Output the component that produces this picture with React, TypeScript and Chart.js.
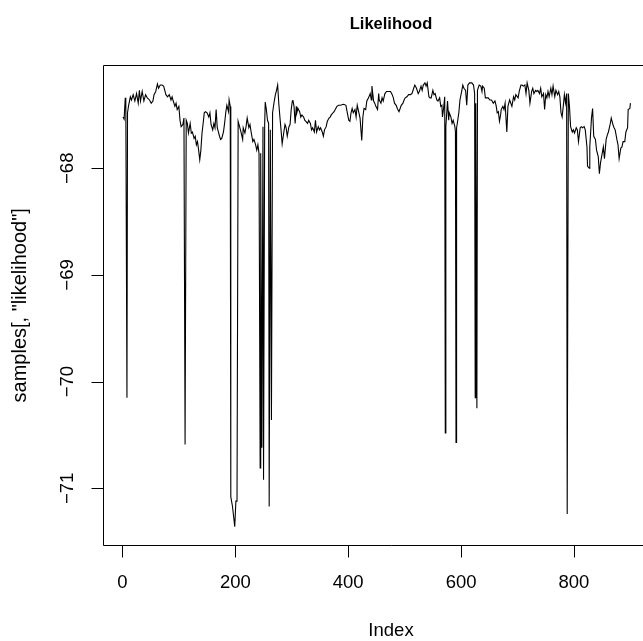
import React, { useEffect, useRef } from "react";
import { Chart, registerables } from "chart.js";

Chart.register(...registerables);

// sample index (x) and likelihood value (y)
const sampleIndex: number[] = [
  1, 3, 5, 6, 8, 9, 11, 14, 16, 19, 22, 25, 28, 30, 32, 35, 38, 41, 44, 48, 51, 54, 56, 59, 62, 64, 67, 70, 73, 75, 77, 80, 83, 86, 88, 90, 93, 95, 97, 100,
  102, 104, 107, 109, 111, 113, 115, 117, 120, 122, 124, 127, 129, 131, 133, 135, 137, 139, 141, 143, 145, 147, 150, 153, 155, 157, 160, 162, 164, 166, 168, 170, 172, 174, 176, 179, 181, 183, 185, 188, 189, 191,
  192, 195, 199, 201, 203, 205,
  208, 210, 213, 214, 217, 219, 221, 224, 226, 228, 231, 233, 236, 238, 240, 242, 244, 245, 247, 249, 250, 252, 253, 255, 257, 259, 260, 262, 264, 266, 269, 271, 273, 275, 277, 279, 281, 283, 286, 288, 290, 292, 295, 297, 299,
  301, 302, 304, 306, 308, 309, 311, 314, 316, 318, 321, 323, 325, 328, 330, 333, 335, 337, 340, 342, 344, 347, 349, 351, 354, 356, 358, 361, 363, 366, 368, 370, 373, 375, 377, 380, 383, 386, 392, 396, 398,
  401, 403, 405, 407, 409, 412, 414, 416, 419, 421, 424, 426, 428, 431, 433, 436, 439, 441, 442, 445, 447, 449, 452, 454, 455, 458, 460, 462, 465, 468, 472, 475, 478, 480, 482, 485, 487, 490, 492, 494, 497, 499,
  501, 504, 507, 510, 513, 516, 518, 521, 524, 526, 529, 531, 533, 536, 538, 540, 543, 545, 547, 550, 552, 554, 557, 559, 562, 564, 566, 567, 569, 571, 572, 573, 576, 578, 579, 582, 584, 586, 589, 590, 591, 592, 593, 596, 598,
  601, 603, 605, 608, 610, 612, 615, 619, 622, 624, 625, 626, 628, 629, 632, 635, 637, 638, 641, 643, 645, 648, 651,
  654, 657, 660, 662, 664, 666, 668, 670, 671, 674, 676, 678, 681, 683, 686, 688, 690, 693, 695, 697,
  701, 703, 706, 708, 710, 713, 715, 717, 720, 722, 725, 727, 729, 732, 734, 736, 739, 741, 743, 746, 748, 750, 752, 754, 756, 759, 761, 763, 766, 768, 771, 773, 775, 777, 779, 781, 783, 785, 787, 788, 790, 792, 794, 797, 799,
  801, 804, 806, 808, 811, 813, 815, 818, 820, 823, 824, 827, 828, 831, 833, 835, 838, 840, 843, 845, 847, 850, 852, 854, 857, 859, 861, 864, 866, 869, 871, 873, 876, 878, 880, 883, 885, 887, 890, 892, 895, 896, 899, 900,
];

const likelihood: number[] = [
  -67.52, -67.54, -67.34, -67.39, -70.15, -67.48, -67.41, -67.33, -67.36, -67.31, -67.37, -67.3, -67.39, -67.27, -67.37, -67.28, -67.37, -67.31, -67.34, -67.36, -67.39, -67.37, -67.31, -67.28, -67.21, -67.25, -67.22, -67.22, -67.23, -67.27, -67.31, -67.33, -67.31, -67.36, -67.33, -67.37, -67.42, -67.39, -67.45, -67.42,
  -67.55, -67.61, -67.59, -67.53, -70.59, -67.55, -67.58, -67.67, -67.58, -67.67, -67.66, -67.72, -67.7, -67.78, -67.75, -67.83, -67.92, -67.83, -67.67, -67.58, -67.48, -67.47, -67.48, -67.52, -67.48, -67.59, -67.64, -67.58, -67.62, -67.45, -67.62, -67.66, -67.7, -67.73, -67.72, -67.66, -67.58, -67.48, -67.41, -67.47, -67.36, -67.42,
  -71.08, -71.17, -71.36, -71.12, -71.12, -67.56,
  -67.62, -67.66, -67.73, -67.62, -67.67, -67.61, -67.53, -67.62, -67.59, -67.66, -67.75, -67.73, -67.78, -67.83, -67.78, -67.86, -70.81, -67.86, -70.62, -67.61, -70.92, -67.59, -67.38, -67.45, -67.55, -67.58, -71.17, -67.64, -70.36, -67.48, -67.37, -67.31, -67.27, -67.22, -67.39, -67.52, -67.64, -67.77, -67.66, -67.59, -67.62, -67.7, -67.61, -67.59, -67.45,
  -67.37, -67.36, -67.42, -67.58, -67.42, -67.48, -67.44, -67.47, -67.52, -67.5, -67.52, -67.55, -67.56, -67.58, -67.55, -67.58, -67.64, -67.62, -67.66, -67.55, -67.66, -67.61, -67.64, -67.62, -67.66, -67.7, -67.64, -67.61, -67.56, -67.53, -67.52, -67.5, -67.48, -67.47, -67.45, -67.42, -67.41, -67.41, -67.4, -67.41, -67.47,
  -67.55, -67.56, -67.48, -67.44, -67.48, -67.45, -67.52, -67.41, -67.48, -67.53, -67.74, -67.52, -67.44, -67.45, -67.37, -67.34, -67.3, -67.36, -67.23, -67.37, -67.39, -67.42, -67.45, -67.3, -67.36, -67.39, -67.34, -67.37, -67.3, -67.28, -67.28, -67.28, -67.31, -67.34, -67.39, -67.41, -67.44, -67.47, -67.44, -67.41, -67.39, -67.36,
  -67.34, -67.33, -67.31, -67.31, -67.3, -67.25, -67.22, -67.25, -67.3, -67.28, -67.23, -67.27, -67.22, -67.2, -67.23, -67.2, -67.33, -67.34, -67.34, -67.27, -67.31, -67.3, -67.36, -67.37, -67.34, -67.42, -67.41, -67.52, -67.44, -67.33, -70.48, -67.61, -67.37, -67.55, -67.48, -67.52, -67.58, -67.55, -67.61, -67.66, -70.57, -67.62, -67.59, -67.48, -67.36,
  -67.28, -67.22, -67.25, -67.27, -67.41, -67.22, -67.2, -67.2, -67.22, -67.3, -70.15, -67.39, -70.25, -67.27, -67.22, -67.23, -67.28, -67.23, -67.25, -67.34, -67.34, -67.34, -67.36,
  -67.36, -67.39, -67.37, -67.41, -67.48, -67.47, -67.56, -67.5, -67.45, -67.42, -67.45, -67.39, -67.66, -67.42, -67.36, -67.39, -67.42, -67.33, -67.36, -67.31,
  -67.34, -67.28, -67.22, -67.22, -67.23, -67.22, -67.3, -67.2, -67.27, -67.39, -67.28, -67.25, -67.3, -67.27, -67.28, -67.27, -67.3, -67.25, -67.33, -67.3, -67.45, -67.31, -67.34, -67.28, -67.33, -67.25, -67.31, -67.23, -67.33, -67.27, -67.31, -67.28, -67.33, -67.48, -67.52, -67.42, -67.31, -67.39, -67.3, -71.24, -67.3, -67.42, -67.61, -67.66, -67.64,
  -67.67, -67.62, -67.64, -67.75, -67.62, -67.61, -67.62, -67.61, -67.64, -67.8, -67.98, -68.0, -67.8, -67.53, -67.44, -67.7, -67.73, -67.83, -67.89, -68.05, -67.95, -67.86, -67.8, -67.91, -67.73, -67.69, -67.66, -67.59, -67.53, -67.59, -67.62, -67.64, -67.73, -67.78, -67.91, -67.81, -67.8, -67.75, -67.75, -67.66, -67.62, -67.45, -67.44, -67.39,
];

const xTicks: number[] = [0, 200, 400, 600, 800];
const yTicks: number[] = [-68, -69, -70, -71];
const xLimits: number[] = [-34.96, 986.6];
const yLimits: number[] = [-71.534, -67.035];

const titleText = "Likelihood";
const xTitle = "Index";
const yTitle = 'samples[, "likelihood"]';

const FONT = '"Liberation Sans", Arial, Helvetica, sans-serif';

const rAxesPlugin = {
  id: "rAxes",
  afterDraw(chart: any) {
    const { ctx, chartArea: a, scales } = chart;
    const xs = scales.x;
    const ys = scales.y;
    ctx.save();
    ctx.strokeStyle = "#000";
    ctx.fillStyle = "#000";
    ctx.lineWidth = 1;
    ctx.beginPath();
    ctx.rect(Math.round(a.left) + 0.5, Math.round(a.top) + 0.5, a.right - a.left, Math.round(a.bottom) - Math.round(a.top));
    ctx.stroke();
    const tick = 12;
    ctx.beginPath();
    const yb = Math.round(a.bottom) + 0.5;
    for (const t of xTicks) {
      const px = Math.round(xs.getPixelForValue(t)) + 0.5;
      ctx.moveTo(px, yb);
      ctx.lineTo(px, yb + tick);
    }
    const xl = Math.round(a.left) + 0.5;
    for (const t of yTicks) {
      const py = Math.round(ys.getPixelForValue(t)) + 0.5;
      ctx.moveTo(xl, py);
      ctx.lineTo(xl - tick, py);
    }
    ctx.stroke();
    ctx.font = `18.5px ${FONT}`;
    ctx.textAlign = "center";
    ctx.textBaseline = "middle";
    for (const t of xTicks) {
      ctx.fillText(String(t), xs.getPixelForValue(t), 583);
    }
    for (const t of yTicks) {
      const py = ys.getPixelForValue(t);
      ctx.save();
      ctx.translate(68, py);
      ctx.rotate(-Math.PI / 2);
      ctx.fillText(String(t).replace("-", "\u2212"), 0, 0);
      ctx.restore();
    }
    const cx = (a.left + a.right) / 2;
    ctx.fillText(xTitle, cx, 631);
    ctx.save();
    ctx.font = `20px ${FONT}`;
    ctx.translate(20, (a.top + a.bottom) / 2);
    ctx.rotate(-Math.PI / 2);
    ctx.fillText(yTitle, 0, 0);
    ctx.restore();
    ctx.font = `bold 16.5px ${FONT}`;
    ctx.fillText(titleText, cx, 24);
    ctx.restore();
  },
};

export default function App() {
  const ref = useRef<HTMLCanvasElement | null>(null);
  useEffect(() => {
    if (!ref.current) return;
    const points = sampleIndex.map((x, i) => ({ x, y: likelihood[i] }));
    const chart = new Chart(ref.current, {
      type: "line",
      data: {
        datasets: [
          {
            data: points,
            borderColor: "#000",
            borderWidth: 1.1,
            pointRadius: 0,
            tension: 0,
            fill: false,
          },
        ],
      },
      options: {
        animation: false,
        responsive: false,
        devicePixelRatio: 1,
        layout: { padding: { left: 102.7, right: 20.7, top: 65.3, bottom: 95.7 } },
        plugins: { legend: { display: false }, tooltip: { enabled: false }, title: { display: false } },
        scales: {
          x: { type: "linear", min: xLimits[0], max: xLimits[1], display: false },
          y: { type: "linear", min: yLimits[0], max: yLimits[1], display: false },
        },
      },
      plugins: [rAxesPlugin],
    });
    return () => chart.destroy();
  }, []);
  return (
    <div style={{ position: "fixed", left: 0, top: 0, width: 643, height: 641, overflow: "hidden", background: "#fff" }}>
      <canvas ref={ref} width={700} height={641} style={{ width: 700, height: 641, display: "block" }} />
    </div>
  );
}
